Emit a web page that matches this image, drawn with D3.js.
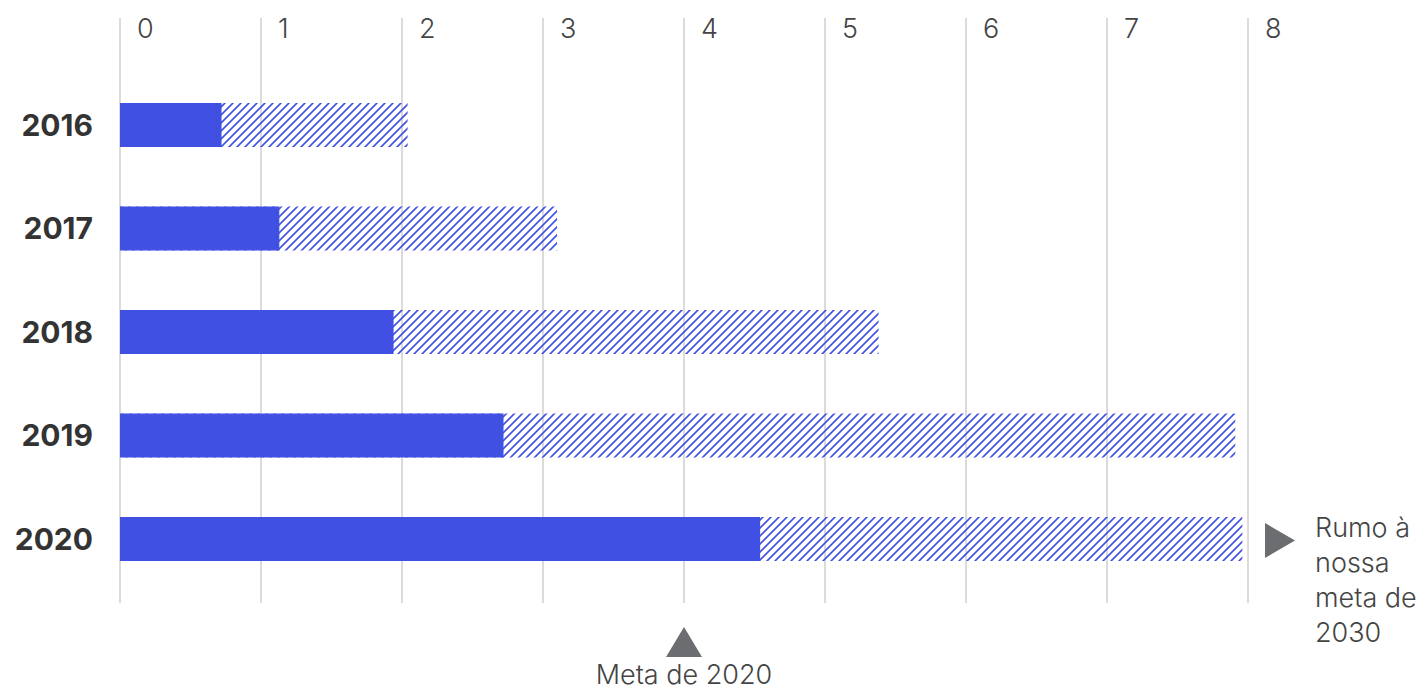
<!DOCTYPE html>
<html>
<head>
<meta charset="utf-8">
<script src="https://cdn.jsdelivr.net/npm/d3@7"></script>
<style>
  body { margin: 0; background: #fff; }
  svg { font-family: Inter, "Noto Sans", sans-serif; }
</style>
</head>
<body>
<div class="chart"></div>
<script>
// data
const years = ["2016", "2017", "2018", "2019", "2020"];
const actual = [0.72, 1.13, 1.94, 2.72, 4.54];
const projected = [2.04, 3.10, 5.38, 7.91, 7.96];
const xTicks = [0, 1, 2, 3, 4, 5, 6, 7, 8];
const goal2020 = 4;
const goal2030Label = ["Rumo à", "nossa", "meta de", "2030"];

const W = 1428, H = 691;
const blue = "#4050e2";

const svg = d3.select(".chart").append("svg")
  .attr("width", W).attr("height", H);

// hatch pattern
const defs = svg.append("defs");
defs.append("pattern")
  .attr("id", "hatch")
  .attr("patternUnits", "userSpaceOnUse")
  .attr("width", 8).attr("height", 8)
  .append("path")
  .attr("d", "M-2,2 l4,-4 M0,8 l8,-8 M6,10 l4,-4")
  .attr("stroke", blue)
  .attr("stroke-width", 1.6);

const x = d3.scaleLinear().domain([0, 8]).range([120, 1248]);
const y = d3.scalePoint().domain(years).range([125, 539]);
const barH = 44;

// grid lines
svg.append("g").selectAll("line")
  .data(xTicks)
  .join("line")
  .attr("x1", d => x(d)).attr("x2", d => x(d))
  .attr("y1", 18).attr("y2", 603)
  .attr("stroke", "#cfcfcf")
  .attr("stroke-width", 1.5);

// tick labels
svg.append("g").selectAll("text")
  .data(xTicks)
  .join("text")
  .attr("x", d => x(d) + 17)
  .attr("y", 38)
  .attr("font-size", 27)
  .attr("font-weight", 300)
  .attr("fill", "#444")
  .text(d => d);

// projected (hatched) bars
svg.append("g").selectAll("rect")
  .data(years)
  .join("rect")
  .attr("x", x(0))
  .attr("y", d => y(d) - barH / 2)
  .attr("width", (d, i) => x(projected[i]) - x(0))
  .attr("height", barH)
  .attr("fill", "url(#hatch)");

// actual (solid) bars
svg.append("g").selectAll("rect")
  .data(years)
  .join("rect")
  .attr("x", x(0))
  .attr("y", d => y(d) - barH / 2)
  .attr("width", (d, i) => x(actual[i]) - x(0))
  .attr("height", barH)
  .attr("fill", blue);

// year labels
svg.append("g").selectAll("text")
  .data(years)
  .join("text")
  .attr("x", 93)
  .attr("y", d => y(d))
  .attr("dy", "0.36em")
  .attr("text-anchor", "end")
  .attr("font-size", 30)
  .attr("font-weight", 700)
  .attr("fill", "#333")
  .text(d => d);

// 2020 goal marker
const gx = x(goal2020);
svg.append("path")
  .attr("d", `M${gx},627 L${gx + 18},657 L${gx - 18},657 Z`)
  .attr("fill", "#6c6d70");
svg.append("text")
  .attr("x", gx).attr("y", 684)
  .attr("text-anchor", "middle")
  .attr("font-size", 27)
  .attr("font-weight", 300)
  .attr("fill", "#444")
  .text("Meta de 2020");

// 2030 goal marker
const tx = x(8) + 17;
svg.append("path")
  .attr("d", `M${tx},523 L${tx + 30},540.5 L${tx},558 Z`)
  .attr("fill", "#6c6d70");
svg.append("g").selectAll("text")
  .data(goal2030Label)
  .join("text")
  .attr("x", 1315)
  .attr("y", (d, i) => 537 + i * 35)
  .attr("font-size", 27)
  .attr("font-weight", 300)
  .attr("fill", "#444")
  .text(d => d);
</script>
</body>
</html>
